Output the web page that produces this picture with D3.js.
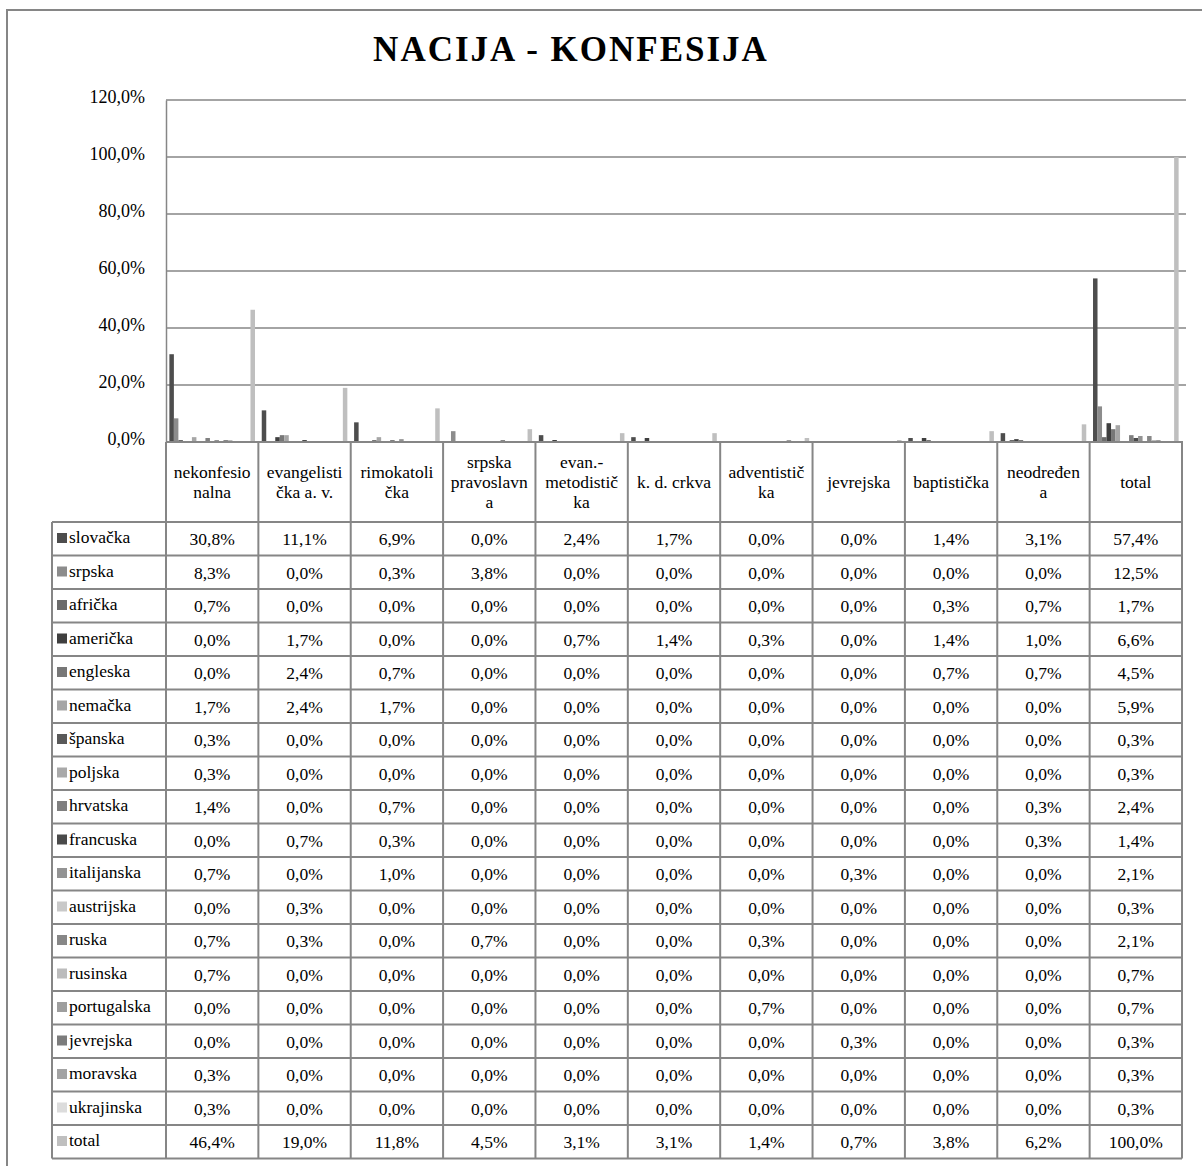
<!DOCTYPE html>
<html>
<head>
<meta charset="utf-8">
<script src="https://cdn.jsdelivr.net/npm/d3@7"></script>
<style>
  body { margin: 0; background: #fff; }
  svg { display: block; font-family: "Liberation Serif", "Times New Roman", serif; }
</style>
</head>
<body>
<div id="chart"></div>
<script>
// categories (confession), header labels wrapped as in the original
const categories = [
  ["nekonfesio", "nalna"],
  ["evangelisti", "čka a. v."],
  ["rimokatoli", "čka"],
  ["srpska", "pravoslavn", "a"],
  ["evan.-", "metodistič", "ka"],
  ["k. d. crkva"],
  ["adventistič", "ka"],
  ["jevrejska"],
  ["baptistička"],
  ["neodređen", "a"],
  ["total"]
];

const seriesNames = [
  "slovačka", "srpska", "afrička", "američka", "engleska", "nemačka",
  "španska", "poljska", "hrvatska", "francuska", "italijanska", "austrijska",
  "ruska", "rusinska", "portugalska", "jevrejska", "moravska", "ukrajinska", "total"
];

const slovacka    = [30.8, 11.1, 6.9, 0.0, 2.4, 1.7, 0.0, 0.0, 1.4, 3.1, 57.4];
const srpska      = [8.3, 0.0, 0.3, 3.8, 0.0, 0.0, 0.0, 0.0, 0.0, 0.0, 12.5];
const africka     = [0.7, 0.0, 0.0, 0.0, 0.0, 0.0, 0.0, 0.0, 0.3, 0.7, 1.7];
const americka    = [0.0, 1.7, 0.0, 0.0, 0.7, 1.4, 0.3, 0.0, 1.4, 1.0, 6.6];
const engleska    = [0.0, 2.4, 0.7, 0.0, 0.0, 0.0, 0.0, 0.0, 0.7, 0.7, 4.5];
const nemacka     = [1.7, 2.4, 1.7, 0.0, 0.0, 0.0, 0.0, 0.0, 0.0, 0.0, 5.9];
const spanska     = [0.3, 0.0, 0.0, 0.0, 0.0, 0.0, 0.0, 0.0, 0.0, 0.0, 0.3];
const poljska     = [0.3, 0.0, 0.0, 0.0, 0.0, 0.0, 0.0, 0.0, 0.0, 0.0, 0.3];
const hrvatska    = [1.4, 0.0, 0.7, 0.0, 0.0, 0.0, 0.0, 0.0, 0.0, 0.3, 2.4];
const francuska   = [0.0, 0.7, 0.3, 0.0, 0.0, 0.0, 0.0, 0.0, 0.0, 0.3, 1.4];
const italijanska = [0.7, 0.0, 1.0, 0.0, 0.0, 0.0, 0.0, 0.3, 0.0, 0.0, 2.1];
const austrijska  = [0.0, 0.3, 0.0, 0.0, 0.0, 0.0, 0.0, 0.0, 0.0, 0.0, 0.3];
const ruska       = [0.7, 0.3, 0.0, 0.7, 0.0, 0.0, 0.3, 0.0, 0.0, 0.0, 2.1];
const rusinska    = [0.7, 0.0, 0.0, 0.0, 0.0, 0.0, 0.0, 0.0, 0.0, 0.0, 0.7];
const portugalska = [0.0, 0.0, 0.0, 0.0, 0.0, 0.0, 0.7, 0.0, 0.0, 0.0, 0.7];
const jevrejska   = [0.0, 0.0, 0.0, 0.0, 0.0, 0.0, 0.0, 0.3, 0.0, 0.0, 0.3];
const moravska    = [0.3, 0.0, 0.0, 0.0, 0.0, 0.0, 0.0, 0.0, 0.0, 0.0, 0.3];
const ukrajinska  = [0.3, 0.0, 0.0, 0.0, 0.0, 0.0, 0.0, 0.0, 0.0, 0.0, 0.3];
const total       = [46.4, 19.0, 11.8, 4.5, 3.1, 3.1, 1.4, 0.7, 3.8, 6.2, 100.0];

const seriesValues = [
  slovacka, srpska, africka, americka, engleska, nemacka, spanska, poljska,
  hrvatska, francuska, italijanska, austrijska, ruska, rusinska, portugalska,
  jevrejska, moravska, ukrajinska, total
];

const yTicks = [0, 20, 40, 60, 80, 100, 120];

const colors = [
  "#4d4d4d", "#8c8c8c", "#6b6b6b", "#3f3f3f", "#777777", "#a6a6a6",
  "#595959", "#a9a9a9", "#7f7f7f", "#4a4a4a", "#939393", "#c9c9c9",
  "#878787", "#bcbcbc", "#9e9e9e", "#7c7c7c", "#a3a3a3", "#dcdcdc", "#bfbfbf"
];

const W = 1202, H = 1166;
const plot = { left: 166, right: 1182, top: 100, bottom: 442 };
const tableLeft = 52;
const headerBottom = 522;
const rowH = 33.5;
const lineColor = "#868686";
const fs = "17.5px";

const fmt = v => v.toFixed(1).replace(".", ",") + "%";

const svg = d3.select("#chart").append("svg")
  .attr("width", W).attr("height", H);

// outer chart border
svg.append("rect")
  .attr("x", 7).attr("y", 10)
  .attr("width", W + 20).attr("height", H + 20)
  .attr("fill", "none").attr("stroke", lineColor).attr("stroke-width", 2);

svg.append("text")
  .attr("x", 571).attr("y", 61)
  .attr("text-anchor", "middle")
  .style("font-size", "35px").style("font-weight", "bold")
  .style("letter-spacing", "2px")
  .text("NACIJA - KONFESIJA");

const x0 = d3.scaleBand()
  .domain(d3.range(categories.length))
  .range([plot.left, plot.right]);

const bw = x0.bandwidth();
const barW = bw / (seriesNames.length + 1.5);
const x1 = d3.scaleBand()
  .domain(d3.range(seriesNames.length))
  .range([barW * 0.75, bw - barW * 0.75]);

const y = d3.scaleLinear().domain([0, 120]).range([plot.bottom, plot.top]);

// gridlines
svg.append("g")
  .selectAll("line")
  .data(yTicks.slice(1))
  .join("line")
  .attr("x1", plot.left).attr("x2", plot.right + 4)
  .attr("y1", d => y(d)).attr("y2", d => y(d))
  .attr("stroke", lineColor).attr("stroke-width", 1.5);

// y axis
const yAxis = svg.append("g")
  .attr("transform", `translate(${plot.left},0)`)
  .call(d3.axisLeft(y).tickValues(yTicks).tickSize(0).tickPadding(21)
    .tickFormat(fmt));
yAxis.select(".domain").attr("stroke", lineColor).attr("stroke-width", 1.5);
yAxis.selectAll("text")
  .attr("dy", "0.12em")
  .style("font-family", "'Liberation Serif', serif")
  .style("font-size", "18px").attr("fill", "#000");

// bars
const groups = svg.append("g")
  .selectAll("g")
  .data(categories.map((c, i) => i))
  .join("g")
  .attr("transform", i => `translate(${x0(i)},0)`);

groups.selectAll("rect")
  .data(i => seriesValues.map((vals, s) => ({ s, v: vals[i] })))
  .join("rect")
  .attr("x", d => x1(d.s))
  .attr("width", x1.bandwidth())
  .attr("y", d => y(d.v))
  .attr("height", d => y(0) - y(d.v))
  .attr("fill", d => colors[d.s]);

// x axis line
svg.append("line")
  .attr("x1", plot.left).attr("x2", plot.right + 1)
  .attr("y1", plot.bottom).attr("y2", plot.bottom)
  .attr("stroke", lineColor).attr("stroke-width", 2);

// data table
const tbl = svg.append("g");
const rowY = i => headerBottom + i * rowH;
const tableBottom = rowY(seriesNames.length);

// column lines (header + body)
tbl.selectAll("line.hv")
  .data(d3.range(categories.length + 1))
  .join("line")
  .attr("class", "hv")
  .attr("x1", i => i < categories.length ? x0(i) : plot.right)
  .attr("x2", i => i < categories.length ? x0(i) : plot.right)
  .attr("y1", plot.bottom).attr("y2", tableBottom)
  .attr("stroke", lineColor).attr("stroke-width", 2);

// horizontal row lines
tbl.selectAll("line.rh")
  .data(d3.range(seriesNames.length + 1))
  .join("line")
  .attr("class", "rh")
  .attr("x1", tableLeft).attr("x2", plot.right)
  .attr("y1", i => rowY(i)).attr("y2", i => rowY(i))
  .attr("stroke", lineColor).attr("stroke-width", 2);

tbl.append("line")
  .attr("x1", tableLeft).attr("x2", tableLeft)
  .attr("y1", headerBottom).attr("y2", tableBottom)
  .attr("stroke", lineColor).attr("stroke-width", 2);

// header labels
const hdr = tbl.selectAll("text.hdr")
  .data(categories)
  .join("text")
  .attr("class", "hdr")
  .attr("text-anchor", "middle")
  .style("font-size", fs);
hdr.each(function (lines, i) {
  const cy = (plot.bottom + headerBottom) / 2;
  const lh = 20;
  const start = cy - (lines.length - 1) * lh / 2 + 6;
  d3.select(this).selectAll("tspan")
    .data(lines)
    .join("tspan")
    .attr("x", x0(i) + bw / 2)
    .attr("y", (d, k) => start + k * lh)
    .text(d => d);
});

// row labels with legend keys
const rows = tbl.selectAll("g.row")
  .data(seriesNames)
  .join("g")
  .attr("class", "row")
  .attr("transform", (d, i) => `translate(0,${rowY(i)})`);

rows.append("rect")
  .attr("x", 57).attr("y", 11)
  .attr("width", 10).attr("height", 10)
  .attr("fill", (d, i) => colors[i]);

rows.append("text")
  .attr("x", 69).attr("y", 21)
  .style("font-size", fs)
  .text(d => d);

rows.selectAll("text.val")
  .data((d, s) => seriesValues[s])
  .join("text")
  .attr("class", "val")
  .attr("x", (v, i) => x0(i) + bw / 2)
  .attr("y", 23)
  .attr("text-anchor", "middle")
  .style("font-size", fs)
  .text(fmt);
</script>
</body>
</html>
